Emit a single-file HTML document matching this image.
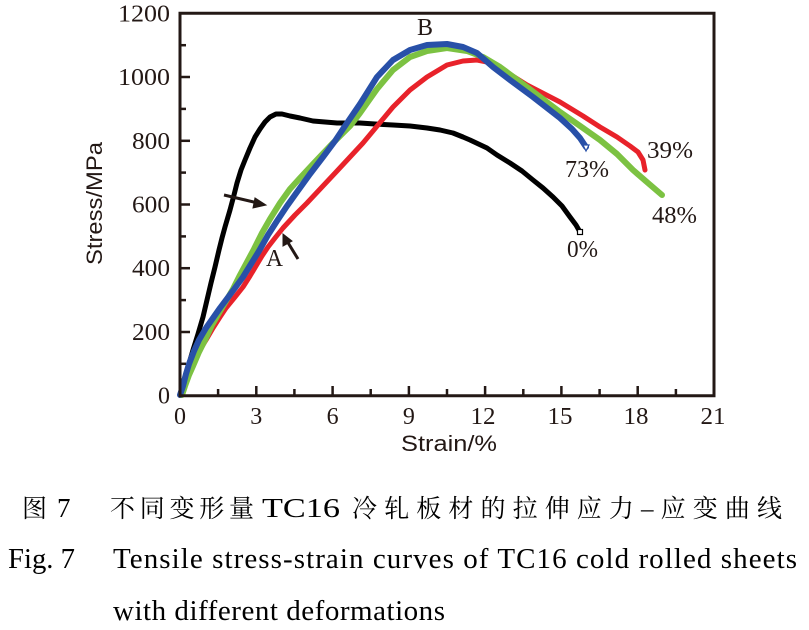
<!DOCTYPE html>
<html>
<head>
<meta charset="utf-8">
<style>
html,body{margin:0;padding:0;background:#fff;}
svg{display:block;}
.tk{font-family:"Liberation Serif","Noto Serif CJK SC",serif;font-size:24px;fill:#231815;}
.ax{font-family:"Liberation Sans",sans-serif;font-size:22px;fill:#231815;}
.cn{font-family:"Liberation Serif","Noto Serif CJK SC",serif;font-size:25px;fill:#000;}
.en{font-family:"Liberation Serif",serif;font-size:29px;fill:#000;}
</style>
</head>
<body>
<svg width="809" height="630" viewBox="0 0 809 630" xmlns="http://www.w3.org/2000/svg">
<rect width="809" height="630" fill="#fff"/>

<!-- curves -->
<g fill="none" stroke-linejoin="round" stroke-linecap="round">
<polyline stroke="#000" stroke-width="5" points="180,395 183,383 188,367 193,350 198,334 203,317 207,300 211,283 215,267 219,250 222,238 225,227 230,210 234,195 237,183 241,170 245,160 250,148 255,137 260,129 265,122 270,117 276,114 282,114 290,116 300,118 313,121 325,122 337,123 350,123 360,123 375,124 393,125 410,126 427,128 440,130 453,133 463,137 470,140 487,148 497,155 510,163 522,171 533,180 543,188 553,197 562,206 570,217 576,225 580,232"/>
<polyline stroke="#e8222a" stroke-width="5" points="180,395 184,383 190,368 198,353 206,340 213,328 220,317 226,308 235,297 243,287 250,276 256,266 262,256 268,247 275,238 283,228 295,215 307,203 322,187 337,171 350,157 363,143 378,125 393,107 410,90 427,77 447,65 463,61 477,60 487,62 503,70 527,85 560,102 583,116 600,127 617,137 630,146 638,152 643,160 645,170"/>
<polyline stroke="#7cc242" stroke-width="6" points="182,395 185,386 189,375 193,366 199,352 206,338 212,325 219,313 226,301 233,289 240,275 247,262 254,249 262,233 270,219 280,203 290,189 300,178 313,164 333,143 350,126 360,113 377,89 393,70 410,57 427,51 447,48 467,51 483,57 500,67 527,87 560,112 583,128 600,140 617,154 633,170 648,183 662,195"/>
<polyline stroke="#2850a8" stroke-width="6" points="180,395 183,386 186,374 189,364 194,351 199,340 206,328 213,318 220,308 226,300 235,288 243,277 251,264 259,251 268,235 277,221 287,206 297,192 310,174 323,157 335,141 347,123 360,104 377,77 393,60 410,50 427,45 447,44 463,47 477,53 493,67 510,80 533,97 560,118 572,129 580,138 586,147"/>
</g>
<rect x="577.5" y="229.5" width="5" height="5" fill="#fff" stroke="#000" stroke-width="1.2"/>
<path d="M583,145 L589,145 L586,151 Z" fill="#fff" stroke="#2850a8" stroke-width="1.2"/>

<!-- arrows -->
<g stroke="#231815" stroke-width="3" fill="#231815">
<line x1="224" y1="195" x2="258" y2="203"/>
<path d="M266,205 L255,198 L253,208 Z" stroke-width="1"/>
<line x1="298" y1="259" x2="287" y2="241"/>
<path d="M283,234 L283,246 L292,241 Z" stroke-width="1"/>
</g>

<!-- axes frame -->
<g stroke="#231815" stroke-width="3" fill="none">
<line x1="180" y1="13.3" x2="180" y2="397"/>
<line x1="178.5" y1="395.7" x2="715.5" y2="395.7"/>
<line x1="178.5" y1="13.3" x2="715.5" y2="13.3"/>
<line x1="714" y1="12" x2="714" y2="397"/>
</g>
<!-- ticks -->
<g stroke="#231815" stroke-width="2.5">
<line x1="256.3" y1="395.7" x2="256.3" y2="386"/>
<line x1="332.6" y1="395.7" x2="332.6" y2="386"/>
<line x1="408.9" y1="395.7" x2="408.9" y2="386"/>
<line x1="485.1" y1="395.7" x2="485.1" y2="386"/>
<line x1="561.4" y1="395.7" x2="561.4" y2="386"/>
<line x1="637.7" y1="395.7" x2="637.7" y2="386"/>
<line x1="218.1" y1="395.7" x2="218.1" y2="389"/>
<line x1="294.4" y1="395.7" x2="294.4" y2="389"/>
<line x1="370.7" y1="395.7" x2="370.7" y2="389"/>
<line x1="447" y1="395.7" x2="447" y2="389"/>
<line x1="523.3" y1="395.7" x2="523.3" y2="389"/>
<line x1="599.6" y1="395.7" x2="599.6" y2="389"/>
<line x1="675.9" y1="395.7" x2="675.9" y2="389"/>

<line x1="180" y1="332" x2="190" y2="332"/>
<line x1="180" y1="268.2" x2="190" y2="268.2"/>
<line x1="180" y1="204.5" x2="190" y2="204.5"/>
<line x1="180" y1="140.8" x2="190" y2="140.8"/>
<line x1="180" y1="77" x2="190" y2="77"/>
<line x1="180" y1="363.8" x2="186" y2="363.8"/>
<line x1="180" y1="300.1" x2="186" y2="300.1"/>
<line x1="180" y1="236.4" x2="186" y2="236.4"/>
<line x1="180" y1="172.6" x2="186" y2="172.6"/>
<line x1="180" y1="108.9" x2="186" y2="108.9"/>
<line x1="180" y1="45.2" x2="186" y2="45.2"/>
</g>

<!-- y tick labels -->
<g class="tk" text-anchor="end">
<text x="170" y="403.7" textLength="12" lengthAdjust="spacingAndGlyphs">0</text>
<text x="170" y="340" textLength="38" lengthAdjust="spacingAndGlyphs">200</text>
<text x="170" y="276.2" textLength="38" lengthAdjust="spacingAndGlyphs">400</text>
<text x="170" y="212.5" textLength="38" lengthAdjust="spacingAndGlyphs">600</text>
<text x="170" y="148.8" textLength="38" lengthAdjust="spacingAndGlyphs">800</text>
<text x="170" y="85" textLength="52" lengthAdjust="spacingAndGlyphs">1000</text>
<text x="170" y="21.3" textLength="52" lengthAdjust="spacingAndGlyphs">1200</text>
</g>
<!-- x tick labels -->
<g class="tk" text-anchor="middle">
<text x="180" y="424">0</text>
<text x="256.3" y="424">3</text>
<text x="332.6" y="424">6</text>
<text x="408.9" y="424">9</text>
<text x="483" y="424" textLength="25" lengthAdjust="spacingAndGlyphs">12</text>
<text x="560" y="424" textLength="25" lengthAdjust="spacingAndGlyphs">15</text>
<text x="636" y="424" textLength="25" lengthAdjust="spacingAndGlyphs">18</text>
<text x="713" y="424" textLength="25" lengthAdjust="spacingAndGlyphs">21</text>
</g>

<!-- axis titles -->
<text class="ax" x="401" y="451" textLength="96" lengthAdjust="spacingAndGlyphs">Strain/%</text>
<text class="ax" transform="translate(102,265) rotate(-90)" x="0" y="0" textLength="123" lengthAdjust="spacingAndGlyphs">Stress/MPa</text>

<!-- annotations -->
<g class="tk">
<text x="266" y="266" textLength="17" lengthAdjust="spacingAndGlyphs">A</text>
<text x="417" y="35" textLength="16" lengthAdjust="spacingAndGlyphs">B</text>
<text x="565" y="177" textLength="44" lengthAdjust="spacingAndGlyphs">73%</text>
<text x="647" y="158" textLength="46" lengthAdjust="spacingAndGlyphs">39%</text>
<text x="652" y="223" textLength="45" lengthAdjust="spacingAndGlyphs">48%</text>
<text x="567" y="257" textLength="31" lengthAdjust="spacingAndGlyphs">0%</text>
</g>

<!-- caption -->
<text class="cn" x="22" y="517">图</text>
<text class="cn" x="57" y="517" style="font-family:'Liberation Serif',serif;font-size:27px">7</text>
<text class="cn" x="110" y="517" textLength="144" lengthAdjust="spacing">不同变形量</text>
<text x="262" y="517" textLength="78" lengthAdjust="spacingAndGlyphs" style="font-family:'Liberation Serif',serif;font-size:27px;fill:#000">TC16</text>
<text class="cn" x="352" y="517" textLength="430" lengthAdjust="spacing">冷轧板材的拉伸应力–应变曲线</text>

<text class="en" x="8" y="568" textLength="67" lengthAdjust="spacingAndGlyphs">Fig. 7</text>
<text class="en" x="113" y="568" textLength="684" lengthAdjust="spacing">Tensile stress-strain curves of TC16 cold rolled sheets</text>
<text class="en" x="113" y="620" textLength="332" lengthAdjust="spacing">with different deformations</text>
</svg>
</body>
</html>
